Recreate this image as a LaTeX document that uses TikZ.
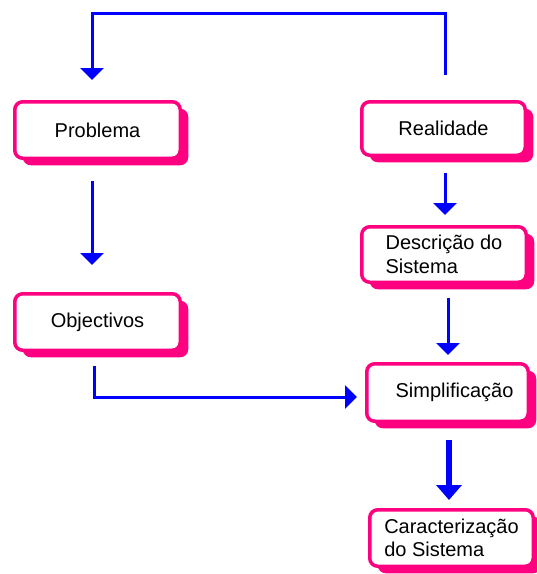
\documentclass[tikz,border=0pt]{standalone}
\usepackage{fontspec}
\setmainfont{Liberation Sans}
\usetikzlibrary{arrows.meta,shadows}
\definecolor{pinkc}{RGB}{255,0,128}
\definecolor{bluec}{RGB}{0,0,255}
\begin{document}
\begin{tikzpicture}[x=1pt,y=-1pt,
  box/.style={draw=pinkc,line width=3.5pt,fill=white,rounded corners=8pt,
    inner sep=0pt,align=center,font=\fontsize{20}{23.5}\selectfont,
    drop shadow={shadow xshift=8pt,shadow yshift=-7pt,fill=pinkc,opacity=1}},
  conn/.style={draw=bluec,line width=3pt,-{Triangle[width=23pt,length=12pt]}},
  thickconn/.style={draw=bluec,line width=5.5pt,-{Triangle[width=25pt,length=15pt]}}]
\useasboundingbox (0,0) rectangle (537,574);
\node[box,minimum width=165.5pt,minimum height=56.5pt] (P) at (97.5,130) {Problema};
\node[box,minimum width=163.5pt,minimum height=53.5pt] (R) at (443.5,128.5) {Realidade};
\node[box,minimum width=164.5pt,minimum height=55.5pt,align=left] (D) at (444,254.5) {Descrição do\\Sistema};
\node[box,minimum width=161.5pt,minimum height=57.5pt] (S) at (447.5,392.5) {\hspace*{14pt}Simplificação};
\node[box,minimum width=163.5pt,minimum height=56.5pt,align=left] (C) at (451.5,538) {Caracterização\\do Sistema};
\node[box,minimum width=165.5pt,minimum height=56.5pt] (O) at (97.5,322) {Objectivos};
\draw[conn] ([xshift=1.5pt,yshift=25pt]R.north) -- ++(0,-62) -| ([xshift=-5.5pt,yshift=20pt]P.north);
\draw[conn] ([xshift=-5.5pt,yshift=-21pt]P.south) -- ([xshift=-5.5pt,yshift=27pt]O.north);
\draw[conn] ([xshift=1.5pt,yshift=-16pt]R.south) -- ([xshift=1pt,yshift=10pt]D.north);
\draw[conn] ([xshift=4pt,yshift=-14pt]D.south) -- ([xshift=0.5pt,yshift=7pt]S.north);
\draw[thickconn] ([xshift=1.5pt,yshift=-17pt]S.south) -- ([xshift=-2.5pt,yshift=8pt]C.north);
\draw[conn] ([xshift=-3.5pt,yshift=-14pt]O.south) |- ([xshift=-8pt,yshift=-4.5pt]S.west);
\end{tikzpicture}
\end{document}
